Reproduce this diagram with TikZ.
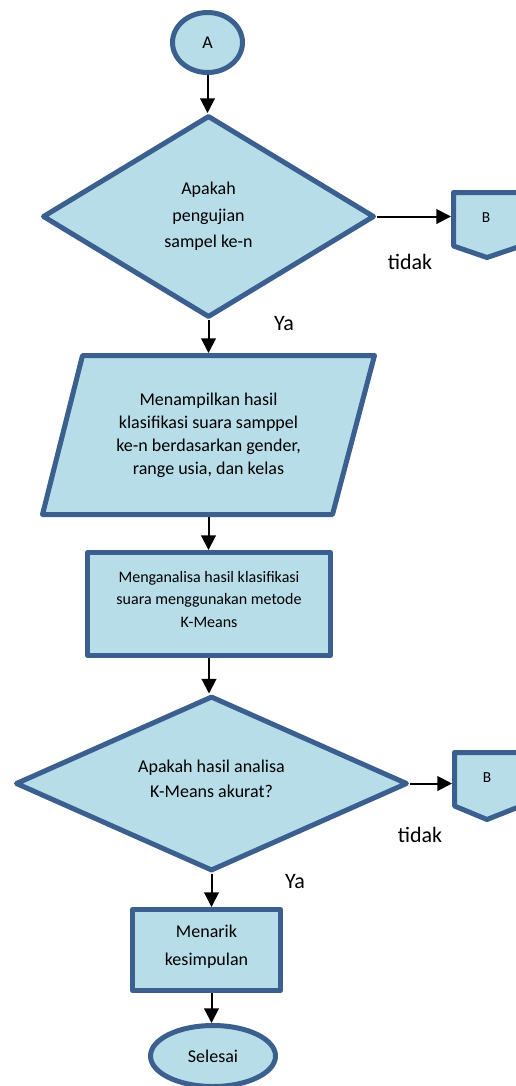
\documentclass[tikz,border=0pt]{standalone}
\usepackage{fontspec}
\setmainfont{Carlito}
\usetikzlibrary{shapes.geometric,arrows.meta}
\definecolor{shapefill}{HTML}{B7DDE8}
\definecolor{shapeline}{HTML}{3B5F8E}
\tikzset{every picture/.style={line width=0.75pt}}
\tikzset{
  flowshape/.style={draw=shapeline,fill=shapefill,line width=3.75pt,line join=round,align=center,inner sep=0pt,font=\fontsize{13.5}{19.5}\selectfont},
  flowtext/.style={align=center,inner sep=0pt,outer sep=0pt},
  flowarrow/.style={-{Triangle[length=11pt,width=11pt]},line width=1.5pt},
  sidelabel/.style={font=\fontsize{16.5}{20}\selectfont,inner sep=0pt},
}

\begin{document}
\begin{tikzpicture}[x=0.75pt,y=0.75pt,yscale=-1,xscale=1]
\useasboundingbox (0,0) rectangle (515,1086);

%Shape: Ellipse [start]
\node[flowshape,ellipse,minimum width=52.5pt,minimum height=45pt] (start) at (207.5,42.5) {A};
%Shape: Diamond [cek1]
\node[flowshape,diamond,aspect=1.64,minimum width=249pt,minimum height=151.5pt,font=\fontsize{13.5}{19.9}\selectfont] (cek1) at (208.5,216.5) {Apakah\\pengujian\\sampel ke-n};
%Shape: Parallelogram [tampil]
\draw[flowshape] (82.5,355.5) -- (374.5,355.5) -- (332.5,514.5) -- (42.5,514.5) -- cycle ;
% Text Node
\node[flowtext,minimum height=123pt,font=\fontsize{13.5}{17.25}\selectfont] (tampil) at (208.5,435) {Menampilkan hasil\\klasifikasi suara samppel\\ke-n berdasarkan gender,\\range usia, dan kelas};
%Shape: Rectangle [analisa]
\node[flowshape,rectangle,minimum width=182.25pt,minimum height=77.25pt,text depth=7.5pt,font=\fontsize{12}{16.9}\selectfont] (analisa) at (209,604) {Menganalisa hasil klasifikasi\\suara menggunakan metode\\K-Means};
%Shape: Diamond [cek2]
\node[flowshape,diamond,aspect=2.24,minimum width=294pt,minimum height=131.25pt,text depth=7.5pt,font=\fontsize{13.5}{18.75}\selectfont] (cek2) at (211.5,783.5) {Apakah hasil analisa\\K-Means akurat?};
%Shape: Rectangle [simpul]
\node[flowshape,rectangle,minimum width=111pt,minimum height=60.75pt,text depth=6.5pt,font=\fontsize{13.5}{21}\selectfont] (simpul) at (206.5,950) {Menarik\\kesimpulan};
%Shape: Ellipse [selesai]
\node[flowshape,ellipse,minimum width=93.75pt,minimum height=45.75pt] (selesai) at (213,1056) {Selesai};

%Shape: Off-page [b1]
\draw[flowshape] (453.5,192.5) -- (521,192.5) -- (521,246) -- (487,257.5) -- (453.5,246) -- cycle ;
% Text Node
\node[flowtext,minimum width=52.5pt,font=\fontsize{11.5}{14}\selectfont] (b1) at (486,218) {B};
%Shape: Off-page [b2]
\draw[flowshape] (454.5,752.5) -- (521,752.5) -- (521,806) -- (487,819.5) -- (454.5,806) -- cycle ;
% Text Node
\node[flowtext,minimum width=52.5pt,font=\fontsize{11.5}{14}\selectfont] (b2) at (487,778) {B};

%Straight Lines
\draw[flowarrow] (start.south) -- (start.south |- cek1.north) ;
%Straight Lines
\draw[flowarrow] (cek1.south) -- (cek1.south |- tampil.north) ;
%Straight Lines
\draw[flowarrow] (tampil.south) -- (tampil.south |- analisa.north) ;
%Straight Lines
\draw[flowarrow] (analisa.south) -- (analisa.south |- cek2.north) ;
%Straight Lines
\draw[flowarrow] (cek2.south) -- (cek2.south |- simpul.north) ;
%Straight Lines
\draw[flowarrow] (cek2.south |- simpul.south) -- (cek2.south |- selesai.north) ;
%Straight Lines
\draw[flowarrow] (cek1.east) -- (cek1.east -| b1.west) ;
%Straight Lines
\draw[flowarrow] (cek2.east) -- (cek2.east -| b2.west) ;

% Text Node
\node[sidelabel] (tidak1) at (410,262) {tidak};
% Text Node
\node[sidelabel] (ya1) at (284,324) {Ya};
% Text Node
\node[sidelabel] (tidak2) at (420,835) {tidak};
% Text Node
\node[sidelabel] (ya2) at (295,882) {Ya};

\end{tikzpicture}
\end{document}
